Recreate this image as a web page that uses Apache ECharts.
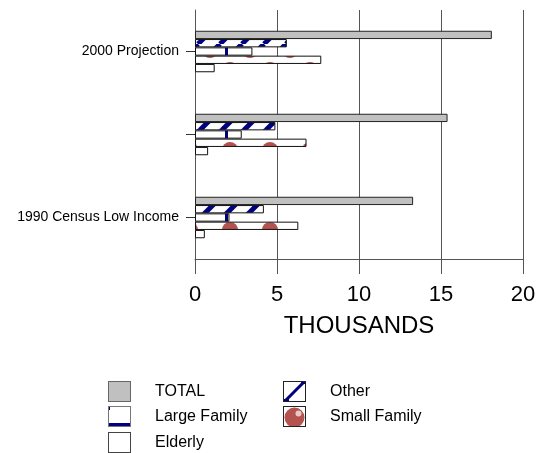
<!DOCTYPE html>
<html>
<head>
    <meta charset="utf-8">
    <title>Low Income Households</title>
    <script src="https://cdn.jsdelivr.net/npm/echarts@6/dist/echarts.min.js"></script>
</head>
<body style="margin:0; background:#fff;">
<div id="main" style="width:542px; height:453px;"></div>
<script type="text/javascript">
    // data (thousands)
    var categories = ['1990 Census Low Income', '', '2000 Projection'];
    var totalValues = [13.3, 15.4, 18.1];
    var otherValues = [4.2, 4.9, 5.6];
    var largeFamilyValues = [2.1, 2.85, 3.5];
    var smallFamilyValues = [6.3, 6.8, 7.7];
    var elderlyValues = [0.6, 0.8, 1.2];
    var xTicks = [0, 5, 10, 15, 20];

    var NAVY = '#000080';
    var RED = '#b4524f';

    function tile(w, h, draw) {
        var c = document.createElement('canvas');
        c.width = w;
        c.height = h;
        var ctx = c.getContext('2d');
        ctx.fillStyle = '#fff';
        ctx.fillRect(0, 0, w, h);
        draw(ctx, w, h);
        return c;
    }

    // fill patterns for the bars
    var otherTile = tile(22, 22, function (ctx, w, h) {
        ctx.strokeStyle = NAVY;
        ctx.lineWidth = 5;
        [-w, 0, w].forEach(function (dx) {
            ctx.beginPath();
            ctx.moveTo(dx, h);
            ctx.lineTo(dx + w, 0);
            ctx.stroke();
        });
    });
    var largeTile = tile(40, 4, function (ctx) {
        ctx.fillStyle = NAVY;
        ctx.fillRect(25, 0, 3, 4);
    });
    var smallTile = tile(40, 40, function (ctx) {
        ctx.fillStyle = RED;
        [[10, 10], [30, 30], [30, -10], [-10, 30], [50, 30], [30, 50]].forEach(function (p) {
            ctx.beginPath();
            ctx.arc(p[0], p[1], 8, 0, Math.PI * 2);
            ctx.fill();
        });
    });

    // legend icons
    function icon(draw, border) {
        var c = tile(23, 21, function (ctx, w, h) {
            draw(ctx, w, h);
            ctx.strokeStyle = border || '#222';
            ctx.lineWidth = 1;
            ctx.strokeRect(0.5, 0.5, w - 1, h - 1);
        });
        return 'image://' + c.toDataURL();
    }
    var totalIcon = icon(function (ctx, w, h) {
        ctx.fillStyle = '#c0c0c0';
        ctx.fillRect(0, 0, w, h);
    }, '#666');
    var otherIcon = icon(function (ctx, w, h) {
        ctx.strokeStyle = NAVY;
        ctx.lineWidth = 3;
        ctx.beginPath();
        ctx.moveTo(2, h - 1);
        ctx.lineTo(w - 2, 1);
        ctx.stroke();
        ctx.fillStyle = NAVY;
        ctx.fillRect(0, h - 3, 6, 3);
        ctx.fillRect(w - 5, 0, 5, 3);
    });
    var largeIcon = icon(function (ctx, w, h) {
        ctx.fillStyle = NAVY;
        ctx.fillRect(0, h - 4, w, 4);
        ctx.fillRect(0, 0, 2, 4);
    }, '#777');
    var smallIcon = icon(function (ctx, w, h) {
        ctx.fillStyle = RED;
        ctx.beginPath();
        ctx.arc(w / 2, h / 2 + 1, 10, 0, Math.PI * 2);
        ctx.fill();
        ctx.fillStyle = '#e8c8c6';
        ctx.beginPath();
        ctx.arc(w / 2 + 4, h / 2 - 3, 3, 0, Math.PI * 2);
        ctx.fill();
    });
    var elderlyIcon = icon(function () {}, '#444');

    var myChart = echarts.init(document.getElementById('main'));

    function legendAt(name, img, left, top) {
        return {
            left: left,
            top: top,
            padding: 0,
            itemWidth: 23,
            itemHeight: 21,
            selectedMode: false,
            textStyle: {
                fontFamily: 'Liberation Sans',
                fontSize: 16,
                color: '#000',
                padding: [0, 0, 0, 19]
            },
            data: [{name: name, icon: img}]
        };
    }

    function barSeries(name, values, fill, border) {
        return {
            name: name,
            type: 'bar',
            data: values,
            barGap: '0%',
            barCategoryGap: '50%',
            itemStyle: {
                color: fill,
                borderColor: border || '#111',
                borderWidth: 1
            },
            emphasis: {disabled: true}
        };
    }

    var option = {
        backgroundColor: '#fff',
        animation: false,
        textStyle: {fontFamily: 'Liberation Sans'},
        grid: {left: 195, right: 19, top: 10, bottom: 194},
        legend: [
            legendAt('TOTAL', totalIcon, 108, 381),
            legendAt('Other', otherIcon, 283, 381),
            legendAt('Large Family', largeIcon, 108, 406),
            legendAt('Small Family', smallIcon, 283, 406),
            legendAt('Elderly', elderlyIcon, 108, 432)
        ],
        xAxis: {
            type: 'value',
            min: xTicks[0],
            max: xTicks[xTicks.length - 1],
            interval: xTicks[1] - xTicks[0],
            name: 'THOUSANDS',
            nameLocation: 'middle',
            nameGap: 55,
            nameTextStyle: {fontSize: 24, color: '#000'},
            axisLine: {show: true, lineStyle: {color: '#555'}},
            axisTick: {show: true, length: 15, lineStyle: {color: '#555'}},
            axisLabel: {fontSize: 22, color: '#000', margin: 25},
            splitLine: {show: true, lineStyle: {color: '#555', width: 1}}
        },
        yAxis: {
            type: 'category',
            data: categories,
            axisLine: {show: true, lineStyle: {color: '#555'}},
            axisTick: {show: true, alignWithLabel: true, length: 9, lineStyle: {color: '#333'}},
            axisLabel: {fontSize: 14, color: '#000', margin: 16},
            splitLine: {show: false}
        },
        series: [
            barSeries('TOTAL', totalValues, '#c0c0c0', '#222'),
            barSeries('Other', otherValues, {image: otherTile, repeat: 'repeat'}),
            barSeries('Large Family', largeFamilyValues, {image: largeTile, repeat: 'repeat'}),
            barSeries('Small Family', smallFamilyValues, {image: smallTile, repeat: 'repeat'}),
            barSeries('Elderly', elderlyValues, '#fff')
        ]
    };

    myChart.setOption(option);
</script>
</body>
</html>
